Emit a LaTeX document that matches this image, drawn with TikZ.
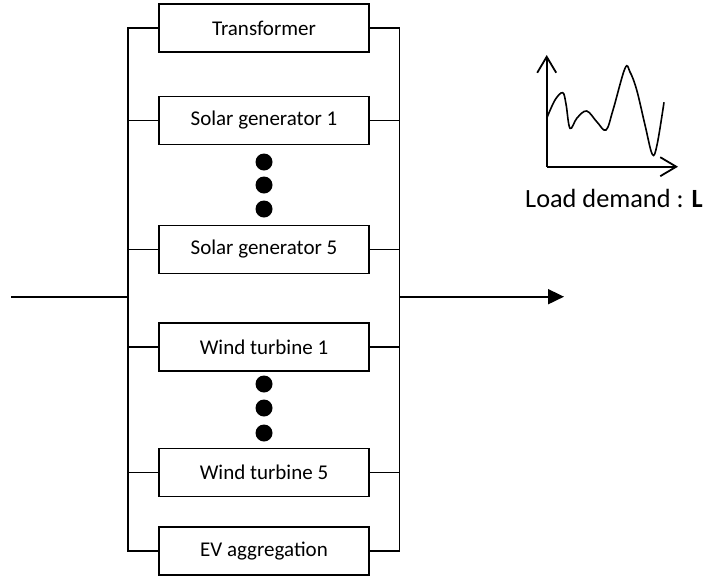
\documentclass[tikz,border=0pt]{standalone}
\usepackage{fontspec}
\setmainfont{Carlito}
\usetikzlibrary{arrows.meta}
\tikzset{
  unitbox/.style={draw, line width=1.6pt, minimum width=210pt, minimum height=48pt, inner sep=0pt, font=\fontsize{21}{24}\selectfont},
  wire/.style={line width=1.8pt},
  bigdot/.style={fill=black, circle, minimum size=17pt, inner sep=0pt},
}
\begin{document}
\begin{tikzpicture}[x=1pt,y=-1pt]
\useasboundingbox (0,0) rectangle (706,579);
% boxes
\node[unitbox] (tr)  at (264,28)    {Transformer};
\node[unitbox] (sg1) at (264,120.5) {Solar generator 1};
\node[unitbox] (sg5) at (264,249.5) {Solar generator 5};
\node[unitbox] (wt1) at (264,347)   {Wind turbine 1};
\node[unitbox] (wt5) at (264,472.5) {Wind turbine 5};
\node[unitbox] (ev)  at (264,551)   {EV aggregation};
% dots
\node[bigdot] (d1) at (264,162) {};
\node[bigdot] (d2) at (264,185) {};
\node[bigdot] (d3) at (264,209) {};
\node[bigdot] (d4) at (264,384) {};
\node[bigdot] (d5) at (264,408) {};
\node[bigdot] (d6) at (264,433) {};
% buses
\coordinate (lt) at (128,28);
\coordinate (lb) at (128,551);
\coordinate (rt) at (399.5,28);
\coordinate (rb) at (399.5,551);
\coordinate (lin) at (128,296.7);
\coordinate (rin) at (399.5,296.7);
\coordinate (inp) at (11,296.7);
\coordinate (outp) at (564,296.7);
\draw[wire] (tr.west) -- (lt) -- (lb) -- (ev.west);
\draw[wire] (tr.east) -- (rt) -- (rb) -- (ev.east);
\foreach \n in {sg1,sg5,wt1,wt5}{
  \draw[wire] (\n.west) -- (\n.west -| lt);
  \draw[wire] (\n.east) -- (\n.east -| rt);
}
\draw[wire] (inp) -- (lin);
\draw[wire, -{Triangle[length=16pt,width=15pt]}] (rin) -- (outp);
% load chart
\coordinate (o) at (546.7,166.7);
\coordinate (ya) at (546.7,55);
\coordinate (xa) at (678,166.7);
\draw[wire, -{Straight Barb[length=16pt,width=19pt,line width=1.8pt]}] (o) -- (ya);
\draw[wire, -{Straight Barb[length=16pt,width=19pt,line width=1.8pt]}] (o) -- (xa);
\draw[line width=1.6pt] plot[smooth, tension=0.6] coordinates {(546.7,118.3) (555,100) (562.7,92.7) (566,104) (570,128.3) (577,118) (586.7,111) (597,122) (606,130) (613,110) (625,68.3) (630,72) (636.7,90) (645,125) (652.3,154.3) (657,145) (664,102.3)};
\node[anchor=base west, inner sep=0pt, font=\fontsize{26.3}{30}\selectfont] (ld) at (525,207) {Load demand : \textbf{L}};
\end{tikzpicture}
\end{document}
